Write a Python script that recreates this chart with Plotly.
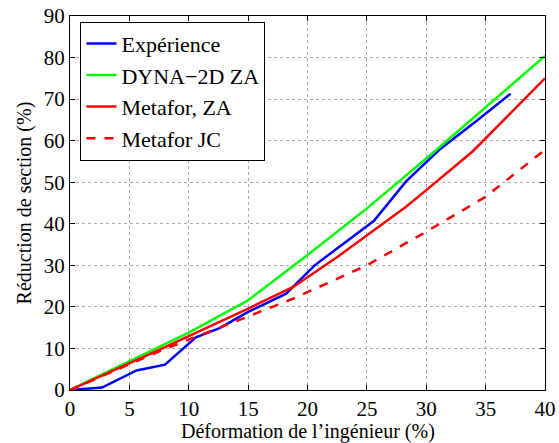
import plotly.graph_objects as go

exp_x = [0, 2.7, 5.6, 8.0, 10.6, 12.6, 15.0, 18.2, 20.6, 23.1, 25.6, 28.3, 31.1, 34.2, 37.1]
exp_y = [0, 0.6, 4.7, 6.1, 12.7, 14.9, 18.8, 23.2, 30.0, 35.3, 40.7, 50.2, 57.8, 64.7, 71.3]

dyna_x = [0, 8.0, 10.0, 15.0, 20.0, 25.0, 30.7, 40.0]
dyna_y = [0, 10.9, 13.8, 21.6, 32.5, 43.7, 57.4, 80.4]

za_x = [0, 8.0, 15.0, 18.8, 22.6, 25.6, 28.3, 30.0, 33.9, 40.0]
za_y = [0, 10.3, 19.6, 24.8, 32.2, 38.5, 44.1, 48.1, 57.4, 75.0]

jc_x = [0, 8.0, 15.0, 18.8, 25.0, 30.0, 35.0, 40.0]
jc_y = [0, 9.9, 17.7, 22.0, 30.0, 38.1, 46.5, 57.8]

x_ticks = [0, 5, 10, 15, 20, 25, 30, 35, 40]
y_ticks = [0, 10, 20, 30, 40, 50, 60, 70, 80, 90]

x_title = "Déformation de l\u2019ingénieur (%)"
y_title = "Réduction de section (%)"

font = "Liberation Serif, Times New Roman, serif"
tick_fs = 21
title_fs = 20
legend_fs = 22

fig = go.Figure()
fig.add_trace(go.Scatter(x=exp_x, y=exp_y, mode="lines", name="Expérience",
                         line=dict(color="#0000ff", width=2.5)))
fig.add_trace(go.Scatter(x=dyna_x, y=dyna_y, mode="lines", name="DYNA\u22122D ZA",
                         line=dict(color="#00ff00", width=2.5)))
fig.add_trace(go.Scatter(x=za_x, y=za_y, mode="lines", name="Metafor, ZA",
                         line=dict(color="#ff0000", width=2.5)))
fig.add_trace(go.Scatter(x=jc_x, y=jc_y, mode="lines", name="Metafor JC",
                         line=dict(color="#ff0000", width=2.5, dash="dash")))

axis_common = dict(
    showline=True, linecolor="black", linewidth=1, mirror="ticks",
    ticks="inside", ticklen=5, tickcolor="black",
    showgrid=True, gridcolor="#aaaaaa", griddash="dot", gridwidth=1,
    zeroline=False, tickfont=dict(family=font, size=tick_fs, color="black"),
    automargin=False,
)

fig.update_xaxes(range=[0, 40], tickvals=x_ticks, **axis_common)
fig.update_yaxes(range=[0, 90], tickvals=y_ticks, **axis_common)

fig.add_annotation(text=x_title, xref="paper", yref="paper", x=0.5, y=-0.112,
                   xanchor="center", yanchor="middle", showarrow=False,
                   font=dict(family=font, size=title_fs, color="black"))
fig.add_annotation(text=y_title, xref="paper", yref="paper", x=-0.096, y=0.50,
                   xanchor="center", yanchor="middle", showarrow=False, textangle=-90,
                   font=dict(family=font, size=title_fs, color="black"))

fig.update_layout(
    width=559, height=443,
    margin=dict(l=70, r=14, t=16, b=53, autoexpand=False),
    paper_bgcolor="white", plot_bgcolor="white",
    font=dict(family=font, size=tick_fs, color="black"),
    legend=dict(x=0.022, y=0.985, xanchor="left", yanchor="top",
                bgcolor="white", bordercolor="black", borderwidth=1,
                font=dict(family=font, size=legend_fs, color="black"),
                tracegroupgap=0, itemwidth=30),
    showlegend=True,
)

fig.write_html("out.html")
